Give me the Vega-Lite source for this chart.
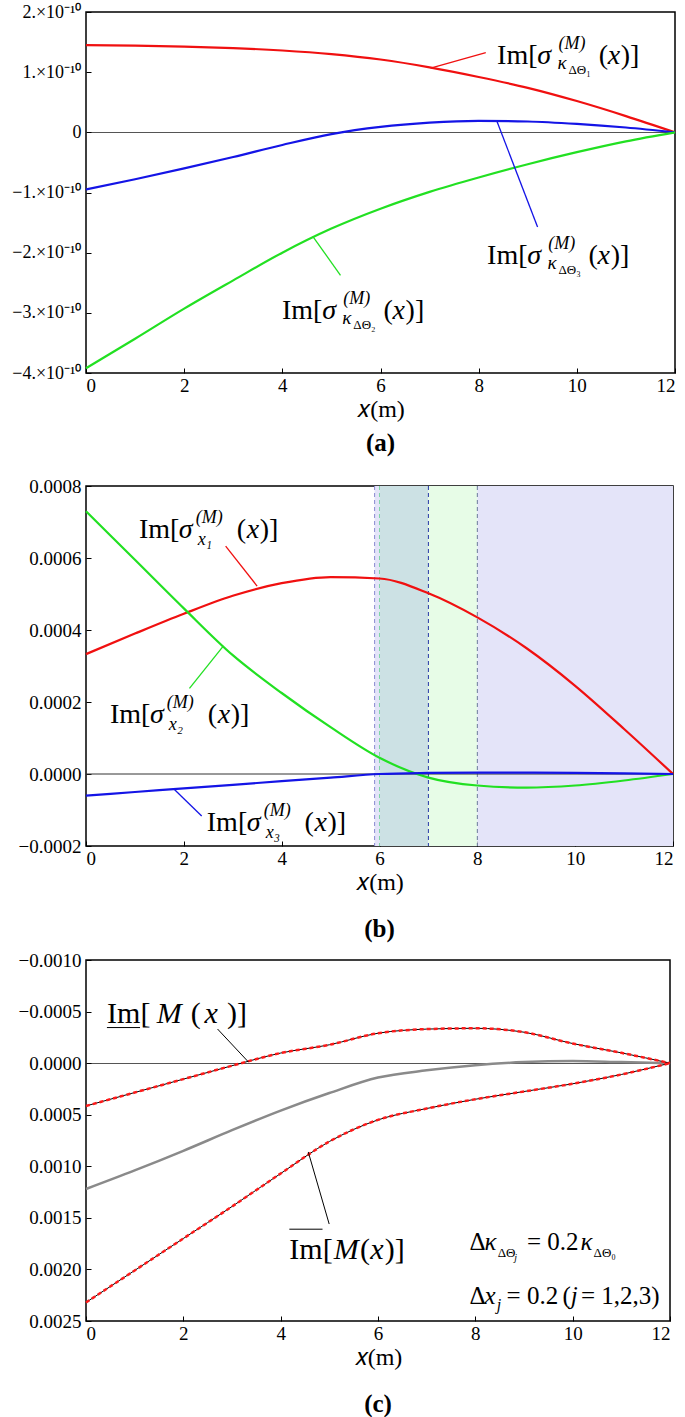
{
"$schema": "https://vega.github.io/schema/vega-lite/v6.json",
"background": "white",
"padding": {"left": 2, "top": 2, "right": 6, "bottom": 0},
"spacing": 7,
"align": "none",
"config": {
 "font": "'Liberation Serif', 'Times New Roman', serif",
 "view": {"stroke": "#000", "strokeWidth": 1.5},
 "axis": {"labelFont": "'Liberation Serif', 'Times New Roman', serif", "labelFontSize": 19, "labelColor": "#000", "domain": false, "grid": false, "ticks": true, "tickColor": "#000", "tickSize": -5, "tickWidth": 1, "titleFont": "'Liberation Serif', 'Times New Roman', serif", "titleFontSize": 24, "titleFontWeight": "normal", "titleColor": "#000", "labelPadding": 8},
 "axisX": {"titlePadding": 2},
 "axisY": {"labelPadding": 10, "minExtent": 83},
 "title": {"font": "'Liberation Serif', 'Times New Roman', serif", "fontSize": 25, "fontWeight": "bold", "color": "#000", "orient": "bottom", "anchor": "middle"},
 "text": {"font": "'Liberation Serif', 'Times New Roman', serif", "color": "#000"}
},
"datasets": {
 "aL": [
  {"x":0,"y":1.45e-10,"s":"r"},{"x":1,"y":1.44e-10,"s":"r"},{"x":2,"y":1.425e-10,"s":"r"},{"x":3,"y":1.40e-10,"s":"r"},{"x":4,"y":1.36e-10,"s":"r"},{"x":5,"y":1.30e-10,"s":"r"},{"x":6,"y":1.21e-10,"s":"r"},{"x":7,"y":1.08e-10,"s":"r"},{"x":8,"y":0.92e-10,"s":"r"},{"x":9,"y":0.74e-10,"s":"r"},{"x":10,"y":0.52e-10,"s":"r"},{"x":11,"y":0.27e-10,"s":"r"},{"x":12,"y":0,"s":"r"},
  {"x":0,"y":-0.95e-10,"s":"b"},{"x":1,"y":-0.78e-10,"s":"b"},{"x":2,"y":-0.60e-10,"s":"b"},{"x":3,"y":-0.41e-10,"s":"b"},{"x":4,"y":-0.21e-10,"s":"b"},{"x":5,"y":-0.03e-10,"s":"b"},{"x":6,"y":0.09e-10,"s":"b"},{"x":7,"y":0.16e-10,"s":"b"},{"x":8,"y":0.19e-10,"s":"b"},{"x":9,"y":0.18e-10,"s":"b"},{"x":10,"y":0.14e-10,"s":"b"},{"x":11,"y":0.08e-10,"s":"b"},{"x":12,"y":0,"s":"b"},
  {"x":0,"y":-3.92e-10,"s":"g"},{"x":1,"y":-3.43e-10,"s":"g"},{"x":2,"y":-2.93e-10,"s":"g"},{"x":3,"y":-2.46e-10,"s":"g"},{"x":4,"y":-2.0e-10,"s":"g"},{"x":5,"y":-1.6e-10,"s":"g"},{"x":6,"y":-1.27e-10,"s":"g"},{"x":7,"y":-0.99e-10,"s":"g"},{"x":8,"y":-0.75e-10,"s":"g"},{"x":9,"y":-0.53e-10,"s":"g"},{"x":10,"y":-0.33e-10,"s":"g"},{"x":11,"y":-0.15e-10,"s":"g"},{"x":12,"y":0,"s":"g"}
 ],
 "aLd": [
  {"x":8.145,"y":1.324e-10,"x2":7.022,"y2":1.069e-10,"s":"r"},
  {"x":8.37,"y":0.188e-10,"x2":9.2,"y2":-1.573e-10,"s":"b"},
  {"x":5.185,"y":-2.376e-10,"x2":4.62,"y2":-1.728e-10,"s":"g"}
 ],
 "aT": [
  {"x":8.376,"y":1.136e-10,"t":"Im[","r":"m"},{"x":9.195,"y":1.136e-10,"t":"σ","r":"i"},{"x":9.625,"y":1.136e-10,"t":"(M)","r":"sup"},{"x":9.605,"y":1.136e-10,"t":"κ","r":"sub"},{"x":9.83,"y":1.136e-10,"t":"ΔΘ₁","r":"sub2"},{"x":10.444,"y":1.136e-10,"t":"(","r":"m"},{"x":10.628,"y":1.136e-10,"t":"x","r":"i"},{"x":10.895,"y":1.136e-10,"t":")]","r":"m"},
  {"x":8.171,"y":-2.183e-10,"t":"Im[","r":"m"},{"x":8.99,"y":-2.183e-10,"t":"σ","r":"i"},{"x":9.42,"y":-2.183e-10,"t":"(M)","r":"sup"},{"x":9.4,"y":-2.183e-10,"t":"κ","r":"sub"},{"x":9.625,"y":-2.183e-10,"t":"ΔΘ₃","r":"sub2"},{"x":10.239,"y":-2.183e-10,"t":"(","r":"m"},{"x":10.423,"y":-2.183e-10,"t":"x","r":"i"},{"x":10.69,"y":-2.183e-10,"t":")]","r":"m"},
  {"x":3.992,"y":-3.097e-10,"t":"Im[","r":"m"},{"x":4.811,"y":-3.097e-10,"t":"σ","r":"i"},{"x":5.241,"y":-3.097e-10,"t":"(M)","r":"sup"},{"x":5.221,"y":-3.097e-10,"t":"κ","r":"sub"},{"x":5.446,"y":-3.097e-10,"t":"ΔΘ₂","r":"sub2"},{"x":6.06,"y":-3.097e-10,"t":"(","r":"m"},{"x":6.244,"y":-3.097e-10,"t":"x","r":"i"},{"x":6.511,"y":-3.097e-10,"t":")]","r":"m"}
 ],
 "bL": [
  {"x":0,"y":3.33e-4,"s":"r"},{"x":1,"y":3.90e-4,"s":"r"},{"x":2,"y":4.45e-4,"s":"r"},{"x":3,"y":4.95e-4,"s":"r"},{"x":4,"y":5.30e-4,"s":"r"},{"x":5,"y":5.47e-4,"s":"r"},{"x":6,"y":5.43e-4,"s":"r"},{"x":7,"y":5.02e-4,"s":"r"},{"x":8,"y":4.35e-4,"s":"r"},{"x":9,"y":3.50e-4,"s":"r"},{"x":10,"y":2.45e-4,"s":"r"},{"x":11,"y":1.25e-4,"s":"r"},{"x":12,"y":0,"s":"r"},
  {"x":0,"y":7.3e-4,"s":"g"},{"x":1,"y":5.95e-4,"s":"g"},{"x":2,"y":4.6e-4,"s":"g"},{"x":3,"y":3.3e-4,"s":"g"},{"x":4,"y":2.25e-4,"s":"g"},{"x":5,"y":1.3e-4,"s":"g"},{"x":6,"y":0.45e-4,"s":"g"},{"x":7,"y":-0.1e-4,"s":"g"},{"x":8,"y":-0.32e-4,"s":"g"},{"x":9,"y":-0.38e-4,"s":"g"},{"x":10,"y":-0.32e-4,"s":"g"},{"x":11,"y":-0.18e-4,"s":"g"},{"x":12,"y":0,"s":"g"},
  {"x":0,"y":-0.60e-4,"s":"b"},{"x":1,"y":-0.50e-4,"s":"b"},{"x":2,"y":-0.40e-4,"s":"b"},{"x":3,"y":-0.30e-4,"s":"b"},{"x":4,"y":-0.20e-4,"s":"b"},{"x":5,"y":-0.10e-4,"s":"b"},{"x":6,"y":0,"s":"b"},{"x":7,"y":0.03e-4,"s":"b"},{"x":8,"y":0.04e-4,"s":"b"},{"x":9,"y":0.04e-4,"s":"b"},{"x":10,"y":0.03e-4,"s":"b"},{"x":11,"y":0.02e-4,"s":"b"},{"x":12,"y":0,"s":"b"}
 ],
 "bLd": [
  {"x":2.855,"y":6.33e-4,"x2":3.498,"y2":5.22e-4,"s":"r"},
  {"x":2.115,"y":2.38e-4,"x2":2.81,"y2":3.56e-4,"s":"g"},
  {"x":2.365,"y":-1.167e-4,"x2":1.802,"y2":-0.425e-4,"s":"b"}
 ],
 "bT": [
  {"x":1.082,"y":6.56e-4,"t":"Im[","r":"m"},{"x":1.898,"y":6.56e-4,"t":"σ","r":"i"},{"x":2.245,"y":6.56e-4,"t":"(M)","r":"sup"},{"x":2.286,"y":6.56e-4,"t":"x₁","r":"sub"},{"x":3.082,"y":6.56e-4,"t":"(","r":"m"},{"x":3.286,"y":6.56e-4,"t":"x","r":"i"},{"x":3.551,"y":6.56e-4,"t":")]","r":"m"},
  {"x":0.49,"y":1.42e-4,"t":"Im[","r":"m"},{"x":1.306,"y":1.42e-4,"t":"σ","r":"i"},{"x":1.653,"y":1.42e-4,"t":"(M)","r":"sup"},{"x":1.694,"y":1.42e-4,"t":"x₂","r":"sub"},{"x":2.49,"y":1.42e-4,"t":"(","r":"m"},{"x":2.694,"y":1.42e-4,"t":"x","r":"i"},{"x":2.959,"y":1.42e-4,"t":")]","r":"m"},
  {"x":2.469,"y":-1.58e-4,"t":"Im[","r":"m"},{"x":3.285,"y":-1.58e-4,"t":"σ","r":"i"},{"x":3.632,"y":-1.58e-4,"t":"(M)","r":"sup"},{"x":3.673,"y":-1.58e-4,"t":"x₃","r":"sub"},{"x":4.469,"y":-1.58e-4,"t":"(","r":"m"},{"x":4.673,"y":-1.58e-4,"t":"x","r":"i"},{"x":4.938,"y":-1.58e-4,"t":")]","r":"m"}
 ],
 "bS": [
  {"x":5.9,"x2":6,"c":"lav"},{"x":6,"x2":7,"c":"teal"},{"x":7,"x2":8,"c":"grn"},{"x":8,"x2":12,"c":"lav"}
 ],
 "bD": [
  {"x":5.9,"c":"d1"},{"x":6,"c":"d2"},{"x":7,"c":"d3"},{"x":8,"c":"d4"}
 ],
 "cL": [
  {"x":0,"y":4.15e-4,"s":"u"},{"x":1,"y":2.85e-4,"s":"u"},{"x":2,"y":1.55e-4,"s":"u"},{"x":3,"y":0.25e-4,"s":"u"},{"x":4,"y":-0.98e-4,"s":"u"},{"x":5,"y":-1.78e-4,"s":"u"},{"x":6,"y":-2.9e-4,"s":"u"},{"x":7,"y":-3.3e-4,"s":"u"},{"x":8,"y":-3.38e-4,"s":"u"},{"x":9,"y":-3.0e-4,"s":"u"},{"x":10,"y":-1.9e-4,"s":"u"},{"x":11,"y":-1.0e-4,"s":"u"},{"x":12,"y":0,"s":"u"},
  {"x":0,"y":12.2e-4,"s":"m"},{"x":1,"y":10.4e-4,"s":"m"},{"x":2,"y":8.5e-4,"s":"m"},{"x":3,"y":6.5e-4,"s":"m"},{"x":4,"y":4.6e-4,"s":"m"},{"x":5,"y":2.9e-4,"s":"m"},{"x":6,"y":1.4e-4,"s":"m"},{"x":7,"y":0.7e-4,"s":"m"},{"x":8,"y":0.2e-4,"s":"m"},{"x":9,"y":-0.1e-4,"s":"m"},{"x":10,"y":-0.2e-4,"s":"m"},{"x":11,"y":-0.1e-4,"s":"m"},{"x":12,"y":0,"s":"m"},
  {"x":0,"y":23.2e-4,"s":"l"},{"x":1,"y":20.1e-4,"s":"l"},{"x":2,"y":17.0e-4,"s":"l"},{"x":3,"y":13.9e-4,"s":"l"},{"x":4,"y":10.7e-4,"s":"l"},{"x":5,"y":7.6e-4,"s":"l"},{"x":6,"y":5.5e-4,"s":"l"},{"x":7,"y":4.4e-4,"s":"l"},{"x":8,"y":3.5e-4,"s":"l"},{"x":9,"y":2.75e-4,"s":"l"},{"x":10,"y":2.0e-4,"s":"l"},{"x":11,"y":1.1e-4,"s":"l"},{"x":12,"y":0,"s":"l"}
 ],
 "cLd": [
  {"x":2.703,"y":-3.31e-4,"x2":3.338,"y2":-0.111e-4},
  {"x":4.997,"y":15.6e-4,"x2":4.567,"y2":8.61e-4},
  {"x":0.43,"y":-3.45e-4,"x2":1.11,"y2":-3.45e-4},
  {"x":4.178,"y":16.1e-4,"x2":4.86,"y2":16.1e-4}
 ],
 "cT": [
  {"x":0.43,"y":-3.92e-4,"t":"Im","r":"m"},{"x":1.12,"y":-3.92e-4,"t":"[","r":"m"},{"x":1.454,"y":-3.92e-4,"t":"M","r":"i"},{"x":2.15,"y":-3.92e-4,"t":"(","r":"m"},{"x":2.437,"y":-3.92e-4,"t":"x","r":"i"},{"x":2.898,"y":-3.92e-4,"t":")]","r":"m"},
  {"x":4.178,"y":19.0e-4,"t":"Im[","r":"m"},{"x":5.093,"y":19.0e-4,"t":"M","r":"i"},{"x":5.632,"y":19.0e-4,"t":"(","r":"m"},{"x":5.84,"y":19.0e-4,"t":"x","r":"i"},{"x":6.14,"y":19.0e-4,"t":")]","r":"m"},
  {"x":7.88,"y":18.12e-4,"t":"Δ","r":"m2"},{"x":8.19,"y":18.12e-4,"t":"κ","r":"i2"},{"x":8.46,"y":18.12e-4,"t":"ΔΘ","r":"s2"},{"x":8.8,"y":18.12e-4,"t":"j","r":"sj"},{"x":9.062,"y":18.12e-4,"t":"= 0.2","r":"m2"},{"x":10.16,"y":18.12e-4,"t":"κ","r":"i2"},{"x":10.43,"y":18.12e-4,"t":"ΔΘ₀","r":"s2"},
  {"x":7.88,"y":23.36e-4,"t":"Δ","r":"m2"},{"x":8.19,"y":23.36e-4,"t":"x","r":"i2"},{"x":8.44,"y":23.36e-4,"t":"j","r":"si2"},{"x":8.642,"y":23.36e-4,"t":"= 0.2","r":"m2"},{"x":9.789,"y":23.36e-4,"t":"(","r":"m2"},{"x":9.96,"y":23.36e-4,"t":"j","r":"i2"},{"x":10.17,"y":23.36e-4,"t":"= 1,2,3)","r":"m2"}
 ]
},
"vconcat": [
 {
  "width": 589, "height": 361,
  "title": {"text": ["(a)", " "], "offset": 10, "lineHeight": 12},
  "layer": [
   {"data": {"name": "aL"},
    "mark": {"type": "line", "interpolate": "monotone", "strokeWidth": 2.2},
    "encoding": {
     "x": {"field": "x", "type": "quantitative", "scale": {"domain": [0, 12], "nice": false, "zero": false}, "axis": {"values": [0,2,4,6,8,10,12], "title": "𝑥(m)", "labelFont": "'Liberation Serif', serif", "titleFont": "'Liberation Serif', serif"}},
     "y": {"field": "y", "type": "quantitative", "scale": {"domain": [-4e-10, 2e-10], "nice": false, "zero": false}, "axis": {"values": [-4e-10,-3e-10,-2e-10,-1e-10,0,1e-10,2e-10], "title": null, "labelFont": "'Liberation Serif', serif", "labelFontSize": 18, "labelExpr": "datum.value == 0 ? '0' : format(datum.value*1e10, '.0f') + '.×10⁻¹⁰'", "grid": true, "gridColor": "#555", "gridWidth": 1, "gridOpacity": {"condition": {"test": "abs(datum.value) < 1e-14", "value": 1}, "value": 0}}},
     "color": {"field": "s", "type": "nominal", "scale": {"domain": ["r","g","b"], "range": ["#f01010", "#22e022", "#1414e6"]}, "legend": null}
    }},
   {"data": {"name": "aLd"},
    "mark": {"type": "rule", "strokeWidth": 1.3},
    "encoding": {
     "x": {"field": "x", "type": "quantitative"}, "y": {"field": "y", "type": "quantitative"},
     "x2": {"field": "x2"}, "y2": {"field": "y2"},
     "color": {"field": "s", "type": "nominal", "legend": null}
    }},
   {"data": {"name": "aT"}, "transform": [{"filter": "datum.r == 'm'"}],
    "mark": {"type": "text", "align": "left", "baseline": "alphabetic", "fontSize": 28},
    "encoding": {"x": {"field": "x", "type": "quantitative"}, "y": {"field": "y", "type": "quantitative"}, "text": {"field": "t"}}},
   {"data": {"name": "aT"}, "transform": [{"filter": "datum.r == 'i'"}],
    "mark": {"type": "text", "align": "left", "baseline": "alphabetic", "fontSize": 28, "fontStyle": "italic"},
    "encoding": {"x": {"field": "x", "type": "quantitative"}, "y": {"field": "y", "type": "quantitative"}, "text": {"field": "t"}}},
   {"data": {"name": "aT"}, "transform": [{"filter": "datum.r == 'sup'"}],
    "mark": {"type": "text", "align": "left", "baseline": "alphabetic", "fontSize": 18, "fontStyle": "italic", "dy": -15},
    "encoding": {"x": {"field": "x", "type": "quantitative"}, "y": {"field": "y", "type": "quantitative"}, "text": {"field": "t"}}},
   {"data": {"name": "aT"}, "transform": [{"filter": "datum.r == 'sub'"}],
    "mark": {"type": "text", "align": "left", "baseline": "alphabetic", "fontSize": 19, "fontStyle": "italic", "dy": 5},
    "encoding": {"x": {"field": "x", "type": "quantitative"}, "y": {"field": "y", "type": "quantitative"}, "text": {"field": "t"}}},
   {"data": {"name": "aT"}, "transform": [{"filter": "datum.r == 'sub2'"}],
    "mark": {"type": "text", "align": "left", "baseline": "alphabetic", "fontSize": 13, "dy": 10},
    "encoding": {"x": {"field": "x", "type": "quantitative"}, "y": {"field": "y", "type": "quantitative"}, "text": {"field": "t"}}}
  ]
 },
 {
  "width": 587, "height": 360,
  "title": {"text": "(b)", "offset": 23},
  "layer": [
   {"data": {"name": "bS"},
    "mark": {"type": "rect"},
    "encoding": {
     "x": {"field": "x", "type": "quantitative", "scale": {"domain": [0, 12], "nice": false, "zero": false}, "axis": {"values": [0,2,4,6,8,10,12], "title": "𝑥(m)", "labelFont": "'Liberation Serif', serif", "titleFont": "'Liberation Serif', serif"}},
     "x2": {"field": "x2"},
     "fill": {"field": "c", "type": "nominal", "scale": {"domain": ["lav","teal","grn"], "range": ["#e4e4f9", "#cce1e4", "#e7fce7"]}, "legend": null}
    }},
   {"data": {"name": "bD"},
    "mark": {"type": "rule", "strokeDash": [4, 3], "strokeWidth": 1},
    "encoding": {
     "x": {"field": "x", "type": "quantitative"},
     "stroke": {"field": "c", "type": "nominal", "scale": {"domain": ["d1","d2","d3","d4"], "range": ["#8a8ad0", "#7fd6a6", "#2a3aa8", "#6a7a9a"]}, "legend": null}
    }},
   {"data": {"values": [{"v": 0}]},
    "mark": {"type": "rule", "color": "#333", "strokeWidth": 1},
    "encoding": {"y": {"field": "v", "type": "quantitative"}}},
   {"data": {"name": "bL"},
    "mark": {"type": "line", "interpolate": "monotone", "strokeWidth": 2.2},
    "encoding": {
     "x": {"field": "x", "type": "quantitative"},
     "y": {"field": "y", "type": "quantitative", "scale": {"domain": [-2e-4, 8e-4], "nice": false, "zero": false}, "axis": {"values": [-2e-4, 0, 2e-4, 4e-4, 6e-4, 8e-4], "format": ".4f", "title": null, "labelFont": "'Liberation Serif', serif"}},
     "color": {"field": "s", "type": "nominal", "scale": {"domain": ["r","g","b"], "range": ["#f01010", "#22e022", "#1414e6"]}, "legend": null}
    }},
   {"data": {"name": "bLd"},
    "mark": {"type": "rule", "strokeWidth": 1.3},
    "encoding": {
     "x": {"field": "x", "type": "quantitative"}, "y": {"field": "y", "type": "quantitative"},
     "x2": {"field": "x2"}, "y2": {"field": "y2"},
     "color": {"field": "s", "type": "nominal", "legend": null}
    }},
   {"data": {"name": "bT"}, "transform": [{"filter": "datum.r == 'm'"}],
    "mark": {"type": "text", "align": "left", "baseline": "alphabetic", "fontSize": 28},
    "encoding": {"x": {"field": "x", "type": "quantitative"}, "y": {"field": "y", "type": "quantitative"}, "text": {"field": "t"}}},
   {"data": {"name": "bT"}, "transform": [{"filter": "datum.r == 'i'"}],
    "mark": {"type": "text", "align": "left", "baseline": "alphabetic", "fontSize": 28, "fontStyle": "italic"},
    "encoding": {"x": {"field": "x", "type": "quantitative"}, "y": {"field": "y", "type": "quantitative"}, "text": {"field": "t"}}},
   {"data": {"name": "bT"}, "transform": [{"filter": "datum.r == 'sup'"}],
    "mark": {"type": "text", "align": "left", "baseline": "alphabetic", "fontSize": 18, "fontStyle": "italic", "dy": -15},
    "encoding": {"x": {"field": "x", "type": "quantitative"}, "y": {"field": "y", "type": "quantitative"}, "text": {"field": "t"}}},
   {"data": {"name": "bT"}, "transform": [{"filter": "datum.r == 'sub'"}],
    "mark": {"type": "text", "align": "left", "baseline": "alphabetic", "fontSize": 18, "fontStyle": "italic", "dy": 7},
    "encoding": {"x": {"field": "x", "type": "quantitative"}, "y": {"field": "y", "type": "quantitative"}, "text": {"field": "t"}}}
  ]
 },
 {
  "width": 584, "height": 361,
  "title": {"text": "(c)", "offset": 23},
  "layer": [
   {"data": {"name": "cL"}, "transform": [{"filter": "datum.s == 'm'"}],
    "mark": {"type": "line", "interpolate": "monotone", "strokeWidth": 2.5, "color": "#8a8a8a"},
    "encoding": {
     "x": {"field": "x", "type": "quantitative", "scale": {"domain": [0, 12], "nice": false, "zero": false}, "axis": {"values": [0,2,4,6,8,10,12], "title": "𝑥(m)", "labelFont": "'Liberation Serif', serif", "titleFont": "'Liberation Serif', serif"}},
     "y": {"field": "y", "type": "quantitative", "scale": {"domain": [-1e-3, 2.5e-3], "nice": false, "zero": false, "reverse": true}, "axis": {"values": [-1e-3, -5e-4, 0, 5e-4, 1e-3, 1.5e-3, 2e-3, 2.5e-3], "format": ".4f", "title": null, "labelFont": "'Liberation Serif', serif", "grid": true, "gridColor": "#555", "gridWidth": 1, "gridOpacity": {"condition": {"test": "abs(datum.value) < 1e-9", "value": 1}, "value": 0}}}
    }},
   {"data": {"name": "cL"}, "transform": [{"filter": "datum.s != 'm'"}],
    "mark": {"type": "line", "interpolate": "monotone", "strokeWidth": 1, "color": "#000"},
    "encoding": {"x": {"field": "x", "type": "quantitative"}, "y": {"field": "y", "type": "quantitative"}, "detail": {"field": "s"}}},
   {"data": {"name": "cL"}, "transform": [{"filter": "datum.s != 'm'"}],
    "mark": {"type": "line", "interpolate": "monotone", "strokeWidth": 2.5, "color": "#ff1a1a", "strokeDash": [4, 3]},
    "encoding": {"x": {"field": "x", "type": "quantitative"}, "y": {"field": "y", "type": "quantitative"}, "detail": {"field": "s"}}},
   {"data": {"name": "cLd"},
    "mark": {"type": "rule", "strokeWidth": 1, "color": "#000"},
    "encoding": {
     "x": {"field": "x", "type": "quantitative"}, "y": {"field": "y", "type": "quantitative"},
     "x2": {"field": "x2"}, "y2": {"field": "y2"}
    }},
   {"data": {"name": "cT"}, "transform": [{"filter": "datum.r == 'm'"}],
    "mark": {"type": "text", "align": "left", "baseline": "alphabetic", "fontSize": 30},
    "encoding": {"x": {"field": "x", "type": "quantitative"}, "y": {"field": "y", "type": "quantitative"}, "text": {"field": "t"}}},
   {"data": {"name": "cT"}, "transform": [{"filter": "datum.r == 'i'"}],
    "mark": {"type": "text", "align": "left", "baseline": "alphabetic", "fontSize": 30, "fontStyle": "italic"},
    "encoding": {"x": {"field": "x", "type": "quantitative"}, "y": {"field": "y", "type": "quantitative"}, "text": {"field": "t"}}},
   {"data": {"name": "cT"}, "transform": [{"filter": "datum.r == 'm2'"}],
    "mark": {"type": "text", "align": "left", "baseline": "alphabetic", "fontSize": 25},
    "encoding": {"x": {"field": "x", "type": "quantitative"}, "y": {"field": "y", "type": "quantitative"}, "text": {"field": "t"}}},
   {"data": {"name": "cT"}, "transform": [{"filter": "datum.r == 'i2'"}],
    "mark": {"type": "text", "align": "left", "baseline": "alphabetic", "fontSize": 25, "fontStyle": "italic"},
    "encoding": {"x": {"field": "x", "type": "quantitative"}, "y": {"field": "y", "type": "quantitative"}, "text": {"field": "t"}}},
   {"data": {"name": "cT"}, "transform": [{"filter": "datum.r == 's2'"}],
    "mark": {"type": "text", "align": "left", "baseline": "alphabetic", "fontSize": 13, "dy": 7},
    "encoding": {"x": {"field": "x", "type": "quantitative"}, "y": {"field": "y", "type": "quantitative"}, "text": {"field": "t"}}},
   {"data": {"name": "cT"}, "transform": [{"filter": "datum.r == 'sj'"}],
    "mark": {"type": "text", "align": "left", "baseline": "alphabetic", "fontSize": 10, "fontStyle": "italic", "dy": 11},
    "encoding": {"x": {"field": "x", "type": "quantitative"}, "y": {"field": "y", "type": "quantitative"}, "text": {"field": "t"}}},
   {"data": {"name": "cT"}, "transform": [{"filter": "datum.r == 'si2'"}],
    "mark": {"type": "text", "align": "left", "baseline": "alphabetic", "fontSize": 16, "fontStyle": "italic", "dy": 6},
    "encoding": {"x": {"field": "x", "type": "quantitative"}, "y": {"field": "y", "type": "quantitative"}, "text": {"field": "t"}}}
  ]
 }
]
}
